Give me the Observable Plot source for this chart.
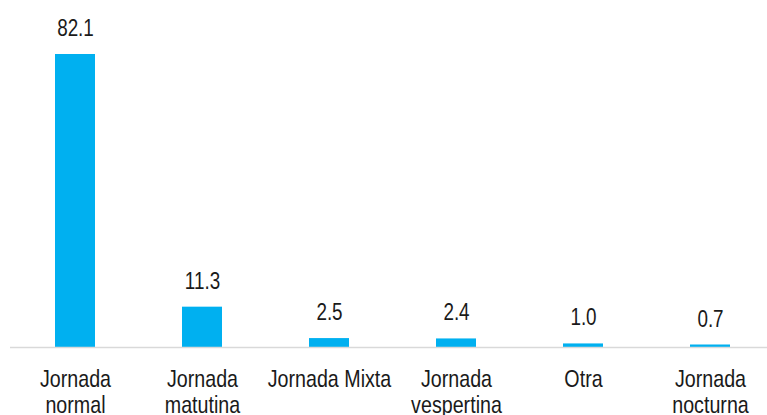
<!DOCTYPE html>
<html>
<head>
<meta charset="utf-8">
<script src="https://cdn.jsdelivr.net/npm/d3@7"></script>
<script src="https://cdn.jsdelivr.net/npm/@observablehq/plot@0.6"></script>
<style>
  html, body { margin: 0; padding: 0; background: #ffffff; }
  #chart svg { display: block; }
</style>
</head>
<body>
<div id="chart"></div>
<script>
const categories = ["Jornada\nnormal", "Jornada\nmatutina", "Jornada Mixta", "Jornada\nvespertina", "Otra", "Jornada\nnocturna"];
const values = [82.1, 11.3, 2.5, 2.4, 1.0, 0.7];
const valueLabels = ["82.1", "11.3", "2.5", "2.4", "1.0", "0.7"];

const data = categories.map((c, i) => ({ category: c, value: values[i], label: valueLabels[i] }));
const font = "'Liberation Sans', Arial, sans-serif";
const narrow = 0.82;

const chart = Plot.plot({
  width: 767,
  height: 415,
  marginLeft: 10,
  marginRight: 0,
  marginTop: 0,
  marginBottom: 0,
  style: { fontFamily: font, background: "#ffffff", overflow: "visible" },
  x: { domain: categories, range: [9, 775], paddingInner: 0.686, paddingOuter: 0.343, axis: null },
  y: { domain: [0, 90], range: [347, 25.8], axis: null },
  marks: [
    Plot.barY(data, { x: "category", y: "value", fill: "#00B0F0" }),
    Plot.ruleY([0], { stroke: "#d9d9d9", strokeWidth: 1.5 }),
    Plot.text(data, { x: "category", y: "value", text: "label", lineAnchor: "bottom", dy: -18.5, fontSize: 23, fill: "#1a1a1a" }),
    Plot.text(data, { x: "category", y: () => 0, text: "category", lineAnchor: "top", dy: 21, fontSize: 24, lineHeight: 1.08, fill: "#1a1a1a" })
  ]
});
// emulate a condensed (narrow) face by horizontal scaling of each label
d3.select(chart).selectAll("text").each(function () {
  const t = d3.select(this);
  const tr = t.attr("transform");
  if (tr) {
    t.attr("transform", tr + ` scale(${narrow},1)`);
  } else {
    const x = +t.attr("x") || 0;
    t.attr("transform", `translate(${x * (1 - narrow)},0) scale(${narrow},1)`);
  }
});
document.getElementById("chart").appendChild(chart);
</script>
</body>
</html>
